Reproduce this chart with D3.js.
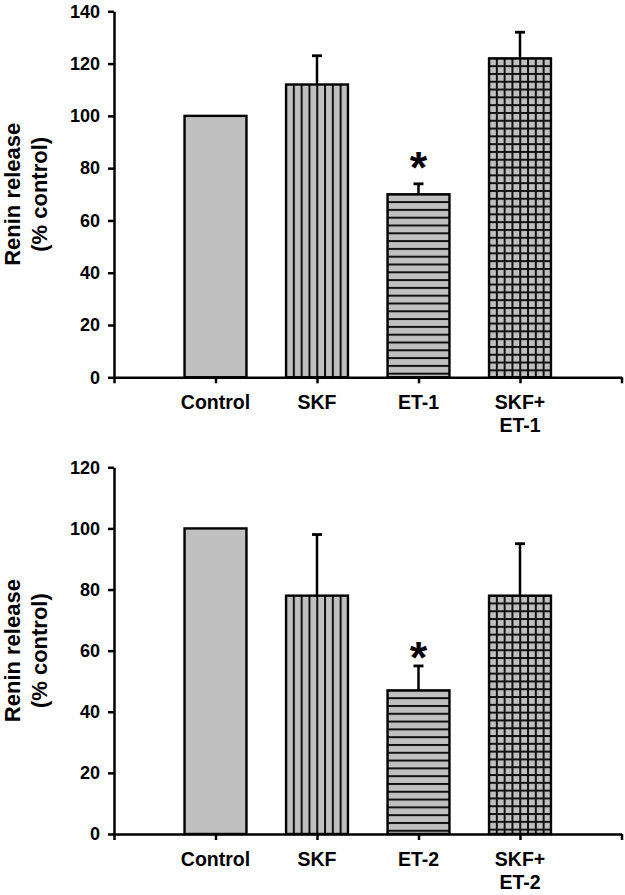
<!DOCTYPE html>
<html>
<head>
<meta charset="utf-8">
<script src="https://cdn.jsdelivr.net/npm/d3@7"></script>
<style>
  body { margin: 0; background: #fff; }
  svg text { font-family: "Liberation Sans", Arial, sans-serif; font-weight: bold; fill: #000; }
</style>
</head>
<body>
<div id="chart"></div>
<script>
// datos
const labelsTop = [["Control"], ["SKF"], ["ET-1"], ["SKF+", "ET-1"]];
const meansTop = [100, 112, 70, 122];
const errTop = [0, 11, 4, 10];
const starTop = [null, null, 84, null];
const ticksTop = [0, 20, 40, 60, 80, 100, 120, 140];

const labelsBottom = [["Control"], ["SKF"], ["ET-2"], ["SKF+", "ET-2"]];
const meansBottom = [100, 78, 47, 78];
const errBottom = [0, 20, 8, 17];
const starBottom = [null, null, 61, null];
const ticksBottom = [0, 20, 40, 60, 80, 100, 120];

const fills = ["solid", "vertical", "horizontal", "grid"];
const yTitle = ["Renin release", "(% control)"];

const width = 625, height = 895;
const svg = d3.select("#chart").append("svg")
    .attr("width", width)
    .attr("height", height);
const defs = svg.append("defs");

const gray = "#c0c0c0";
const step = 7.8;

// patron de rayas, anclado al borde de cada barra
function makePattern(id, kind, x0, y0) {
    const p = defs.append("pattern")
        .attr("id", id)
        .attr("patternUnits", "userSpaceOnUse")
        .attr("x", x0 - 1)
        .attr("y", y0 - 1)
        .attr("width", step)
        .attr("height", step);
    p.append("rect").attr("width", step).attr("height", step).attr("fill", gray);
    if (kind === "vertical" || kind === "grid") {
        p.append("rect").attr("x", 0).attr("y", 0).attr("width", 2).attr("height", step).attr("fill", "#111");
    }
    if (kind === "horizontal" || kind === "grid") {
        p.append("rect").attr("x", 0).attr("y", 0).attr("width", step).attr("height", 2).attr("fill", "#111");
    }
}

function drawPanel(opts) {
    const { id, labels, means, errs, stars, ticks, yMax, top, bottom } = opts;
    const left = 114, right = 621.5;

    const x = d3.scaleLinear().domain([0, 5]).range([left, right]);
    const y = d3.scaleLinear().domain([0, yMax]).range([bottom, top]);
    const barW = (x(1) - x(0)) * 0.61;

    const g = svg.append("g");

    // barras
    means.forEach((v, i) => {
        const bx = x(i + 1) - barW / 2, by = y(v);
        let fill = gray;
        if (fills[i] !== "solid") {
            const pid = `${id}-p${i}`;
            makePattern(pid, fills[i], bx, by);
            fill = `url(#${pid})`;
        }
        g.append("rect")
            .attr("x", bx)
            .attr("y", by)
            .attr("width", barW)
            .attr("height", y(0) - by)
            .attr("fill", fill)
            .attr("stroke", "#000")
            .attr("stroke-width", 2.4);

        // barra de error (solo hacia arriba)
        if (errs[i] > 0) {
            const cx = x(i + 1);
            g.append("line")
                .attr("x1", cx).attr("x2", cx)
                .attr("y1", by).attr("y2", y(v + errs[i]))
                .attr("stroke", "#000").attr("stroke-width", 2.5);
            g.append("line")
                .attr("x1", cx - 5).attr("x2", cx + 5)
                .attr("y1", y(v + errs[i])).attr("y2", y(v + errs[i]))
                .attr("stroke", "#000").attr("stroke-width", 2.8);
        }
        if (stars[i] != null) {
            g.append("text")
                .attr("x", x(i + 1))
                .attr("y", y(stars[i]) + 25)
                .attr("text-anchor", "middle")
                .attr("font-size", 45)
                .text("*");
        }
    });

    // eje Y
    const yAxis = g.append("g")
        .attr("transform", `translate(${left},0)`)
        .call(d3.axisLeft(y).tickValues(ticks).tickSize(6).tickSizeOuter(0).tickPadding(8));
    yAxis.selectAll("text").attr("font-size", 18).attr("font-family", null).style("fill", "#000");

    // eje X
    g.append("g")
        .attr("transform", `translate(0,${bottom})`)
        .call(d3.axisBottom(x).tickValues([0, 1, 2, 3, 4, 5]).tickSize(6).tickSizeOuter(0).tickFormat(""));

    g.selectAll(".domain, .tick line").attr("stroke", "#000").attr("stroke-width", 2.5);

    // etiquetas de categorias
    labels.forEach((lines, i) => {
        const t = g.append("text")
            .attr("x", x(i + 1))
            .attr("y", bottom + 32)
            .attr("text-anchor", "middle")
            .attr("font-size", 19.5);
        lines.forEach((s, k) => {
            t.append("tspan").attr("x", x(i + 1)).attr("dy", k === 0 ? 0 : 23).text(s);
        });
    });

    // titulo del eje Y
    const mid = (top + bottom) / 2;
    const tt = g.append("text")
        .attr("transform", `translate(19.5,${mid}) rotate(-90)`)
        .attr("text-anchor", "middle")
        .attr("font-size", 22);
    yTitle.forEach((s, k) => {
        tt.append("tspan").attr("x", 0).attr("y", k * 27).text(s);
    });
}

drawPanel({ id: "a", labels: labelsTop, means: meansTop, errs: errTop, stars: starTop,
    ticks: ticksTop, yMax: 140, top: 11.3, bottom: 377.3 });
drawPanel({ id: "b", labels: labelsBottom, means: meansBottom, errs: errBottom, stars: starBottom,
    ticks: ticksBottom, yMax: 120, top: 467.3, bottom: 834 });
</script>
</body>
</html>
